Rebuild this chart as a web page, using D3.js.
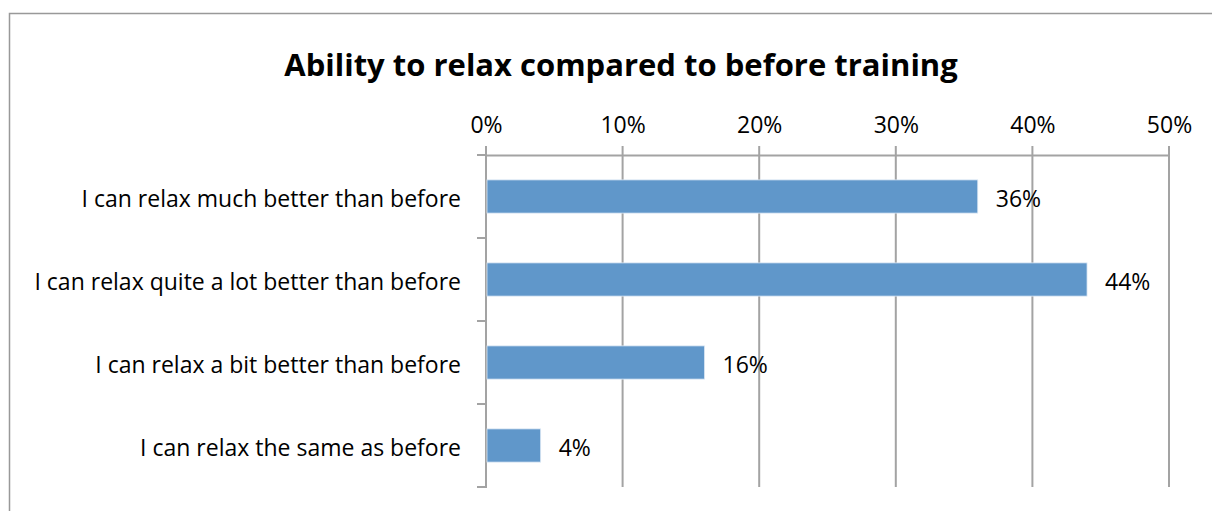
<!DOCTYPE html>
<html>
<head>
<meta charset="utf-8">
<script src="https://cdn.jsdelivr.net/npm/d3@7"></script>
<style>
  body { margin: 0; padding: 0; background: #fff; }
  text { font-family: 'Open Sans', sans-serif; fill: #000; }
</style>
</head>
<body>
<div id="main"></div>
<script>
const chartTitle = 'Ability to relax compared to before training';
const categories = [
    'I can relax much better than before',
    'I can relax quite a lot better than before',
    'I can relax a bit better than before',
    'I can relax the same as before'
];
const values = [36, 44, 16, 4];
const tickValues = [0, 10, 20, 30, 40, 50];

const WIDTH = 1212, HEIGHT = 511;
const plot = { left: 486, right: 1169, top: 155, bottom: 487 };
const GRID = '#a3a3a3';
const FONT = "'Open Sans', sans-serif";
const LABEL_SIZE = 23;

const svg = d3.select('#main').append('svg').attr('width', WIDTH).attr('height', HEIGHT);

// chart frame (runs past the right and bottom edge)
svg.append('rect')
    .attr('x', 9.5).attr('y', 13.5)
    .attr('width', WIDTH).attr('height', HEIGHT)
    .attr('fill', 'none').attr('stroke', '#999').attr('stroke-width', 1.5);

svg.append('text')
    .attr('x', 621).attr('y', 76)
    .attr('text-anchor', 'middle')
    .attr('font-size', 31).attr('font-weight', 'bold')
    .text(chartTitle);

const x = d3.scaleLinear().domain([0, 50]).range([plot.left, plot.right]);
const y = d3.scaleBand().domain(categories).range([plot.top, plot.bottom])
    .paddingInner(0.6).paddingOuter(0.3);

// vertical gridlines (with the little tick above the axis)
svg.append('g').selectAll('line').data(tickValues).enter().append('line')
    .attr('x1', d => x(d)).attr('x2', d => x(d))
    .attr('y1', plot.top - 9).attr('y2', plot.bottom)
    .attr('stroke', GRID).attr('stroke-width', 2);

// top axis
const axis = svg.append('g').attr('transform', `translate(0,${plot.top})`)
    .call(d3.axisTop(x).tickValues(tickValues).tickFormat(d => d + '%').tickSize(0).tickPadding(22));
axis.select('.domain').attr('stroke', GRID).attr('stroke-width', 2);
axis.selectAll('text').attr('font-size', LABEL_SIZE).attr('font-family', FONT).attr('fill', '#000');

// left axis with ticks at band boundaries
const bounds = d3.range(categories.length + 1).map(i => plot.top + i * y.step());
svg.append('line')
    .attr('x1', plot.left).attr('x2', plot.left)
    .attr('y1', plot.top - 9).attr('y2', plot.bottom + 1)
    .attr('stroke', GRID).attr('stroke-width', 2);
svg.append('g').selectAll('line').data(bounds).enter().append('line')
    .attr('x1', plot.left - 9).attr('x2', plot.left)
    .attr('y1', d => d).attr('y2', d => d)
    .attr('stroke', GRID).attr('stroke-width', 2);

// bars
svg.append('g').selectAll('rect').data(values).enter().append('rect')
    .attr('x', x(0) + 1)
    .attr('y', (d, i) => y(categories[i]))
    .attr('width', d => x(d) - x(0) - 1)
    .attr('height', y.bandwidth())
    .attr('fill', '#6097ca')
    .attr('stroke', '#dce8f4').attr('stroke-width', 0.8);

// value labels
svg.append('g').selectAll('text').data(values).enter().append('text')
    .attr('x', d => x(d) + 18)
    .attr('y', (d, i) => y(categories[i]) + y.bandwidth() / 2 + 10)
    .attr('font-size', LABEL_SIZE)
    .text(d => d + '%');

// category labels
svg.append('g').selectAll('text').data(categories).enter().append('text')
    .attr('x', plot.left - 25)
    .attr('y', d => y(d) + y.bandwidth() / 2 + 10)
    .attr('text-anchor', 'end')
    .attr('font-size', LABEL_SIZE)
    .text(d => d);
</script>
</body>
</html>
